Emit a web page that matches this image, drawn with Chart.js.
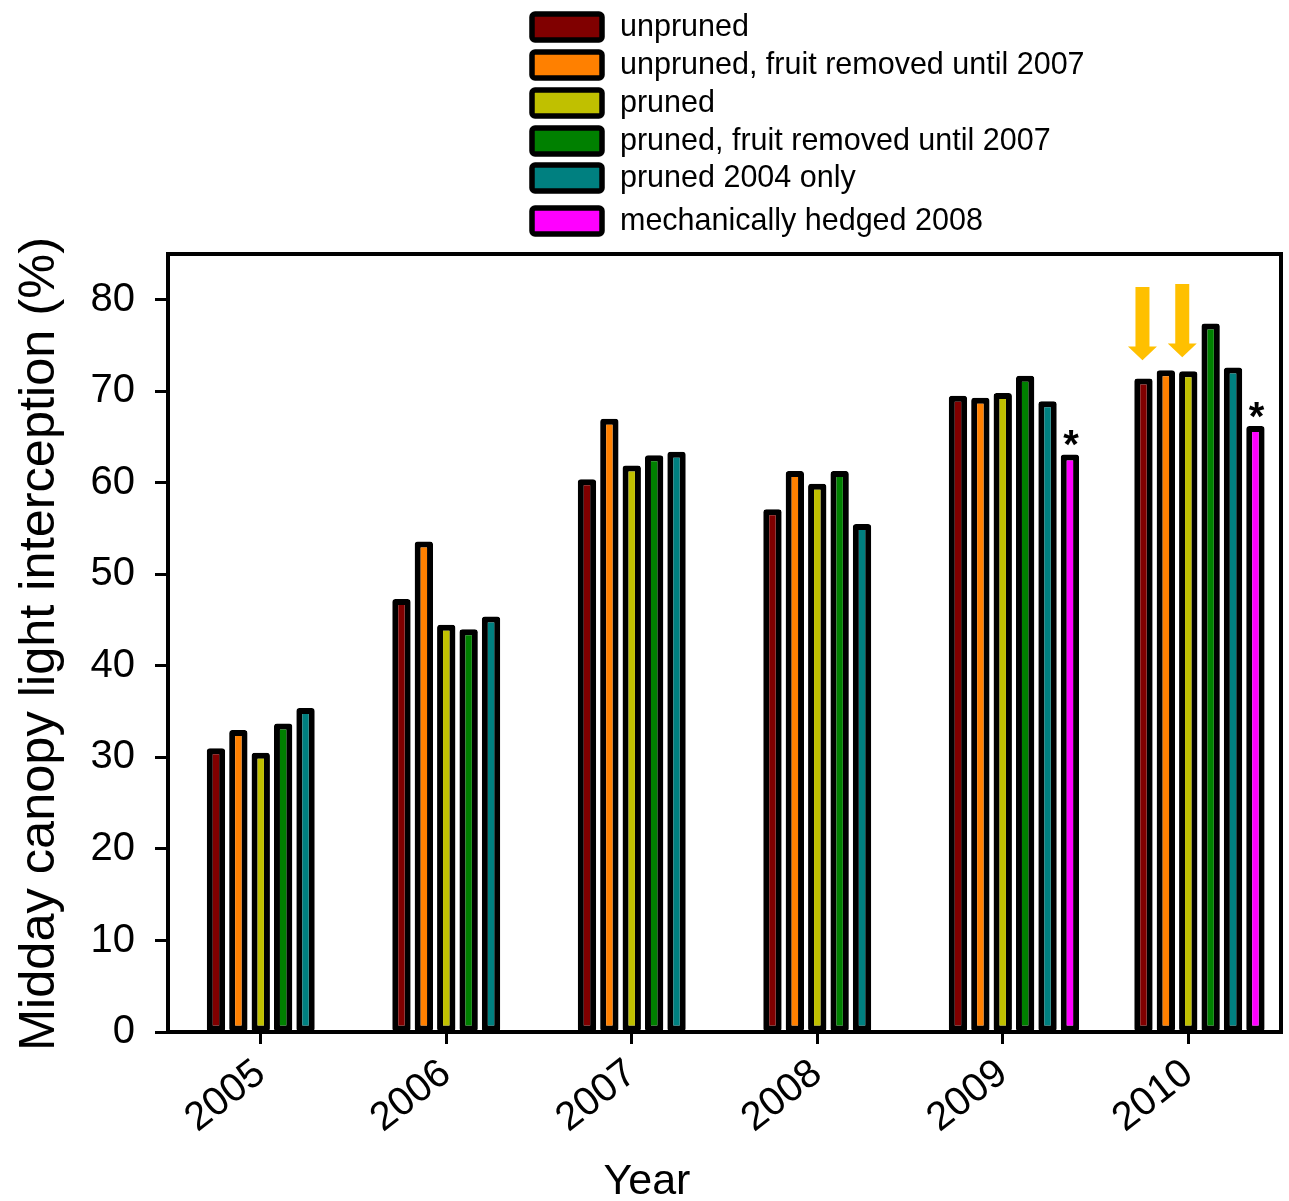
<!DOCTYPE html>
<html>
<head>
<meta charset="utf-8">
<title>Midday canopy light interception</title>
<script src="https://cdn.jsdelivr.net/npm/chart.js@4.4.1/dist/chart.umd.min.js"></script>
<style>
  html, body { margin: 0; padding: 0; background: #fff; }
</style>
</head>
<body>
<canvas id="lightChart" width="1289" height="1201"></canvas>
<script>
// Midday canopy light interception by treatment, 2005-2010

const years = ["2005", "2006", "2007", "2008", "2009", "2010"];

const treatmentNames = [
  "unpruned",
  "unpruned, fruit removed until 2007",
  "pruned",
  "pruned, fruit removed until 2007",
  "pruned 2004 only",
  "mechanically hedged 2008"
];
const treatmentColors = ["#800000", "#ff8000", "#c0c000", "#008000", "#008080", "#ff00ff"];

const unpruned        = [31.0, 47.3, 60.4, 57.1, 69.5, 71.4];
const unprunedNoFruit = [33.0, 53.6, 67.0, 61.3, 69.3, 72.3];
const pruned          = [30.5, 44.5, 61.9, 59.9, 69.8, 72.2];
const prunedNoFruit   = [33.7, 44.0, 63.0, 61.3, 71.7, 77.4];
const pruned2004      = [35.4, 45.4, 63.4, 55.5, 68.9, 72.6];
const hedged2008      = [null, null, null, null, 63.1, 66.2];

// significance marks over the hedged bars
const hedgedMarks = ["", "", "", "", "*", "*"];

const yTicks = [0, 10, 20, 30, 40, 50, 60, 70, 80];

const FONT = "'Liberation Sans', Arial, Helvetica, sans-serif";

const seriesValues = [unpruned, unprunedNoFruit, pruned, prunedNoFruit, pruned2004, hedged2008];

// empty leading slot keeps each year's tick under the "pruned" bar
const datasets = [{
  label: "",
  data: years.map(() => null),
  backgroundColor: "rgba(0,0,0,0)",
  borderWidth: 0
}].concat(seriesValues.map((vals, i) => ({
  label: treatmentNames[i],
  data: vals,
  backgroundColor: treatmentColors[i],
  borderColor: "#000",
  borderWidth: 6,
  borderRadius: 3,
  borderSkipped: false
})));

const framePlugin = {
  id: "frame",
  afterDatasetsDraw(chart) {
    const { ctx, chartArea: a } = chart;
    ctx.save();
    ctx.strokeStyle = "#000";
    ctx.lineWidth = 4;
    ctx.strokeRect(a.left, a.top, a.right - a.left, a.bottom - a.top);
    ctx.restore();
  }
};

const legendPlugin = {
  id: "boxLegend",
  afterDraw(chart) {
    const ctx = chart.ctx;
    const rowY = [27, 65, 103, 141, 178, 221];
    ctx.save();
    treatmentNames.forEach((name, i) => {
      const y = rowY[i];
      ctx.beginPath();
      ctx.roundRect(532, y - 13, 70, 26, 3);
      ctx.fillStyle = treatmentColors[i];
      ctx.fill();
      ctx.lineWidth = 5.5;
      ctx.strokeStyle = "#000";
      ctx.stroke();
      ctx.fillStyle = "#000";
      ctx.font = "30.5px " + FONT;
      ctx.textAlign = "left";
      ctx.textBaseline = "middle";
      ctx.fillText(name, 620, y + 1);
    });
    ctx.restore();
  }
};

const axisTitlePlugin = {
  id: "axisTitles",
  afterDraw(chart) {
    const { ctx, chartArea: a } = chart;
    ctx.save();
    ctx.fillStyle = "#000";
    ctx.textAlign = "center";
    ctx.textBaseline = "middle";
    ctx.font = "43px " + FONT;
    ctx.fillText("Year", 647, 1182);
    ctx.translate(40, (a.top + a.bottom) / 2 + 1);
    ctx.rotate(-Math.PI / 2);
    ctx.font = "50.5px " + FONT;
    ctx.fillText("Midday canopy light interception (%)", 0, 0);
    ctx.restore();
  }
};

// asterisks over hedged bars and the two arrows over 2010
const annotationPlugin = {
  id: "marks",
  afterDatasetsDraw(chart) {
    const ctx = chart.ctx;
    const yScale = chart.scales.y;
    ctx.save();
    const hedgedMeta = chart.getDatasetMeta(6);
    hedgedMarks.forEach((m, i) => {
      const el = hedgedMeta.data[i];
      if (!m || !el || hedged2008[i] == null) return;
      ctx.fillStyle = "#000";
      ctx.font = "bold 40px " + FONT;
      ctx.textAlign = "center";
      ctx.textBaseline = "alphabetic";
      ctx.fillText(m, el.x + 1, el.y + 4);
    });

    const arrows = [{ ds: 1, dx: -1 }, { ds: 3, dx: -6 }];
    const top = yScale.getPixelForValue(81.4);
    const headBase = yScale.getPixelForValue(74.9);
    const tip = yScale.getPixelForValue(73.4);
    arrows.forEach((ar, k) => {
      const el = chart.getDatasetMeta(ar.ds).data[5];
      const cx = el.x + ar.dx;
      const lift = k === 1 ? 3 : 0;
      ctx.beginPath();
      ctx.moveTo(cx - 7, top - lift);
      ctx.lineTo(cx + 7, top - lift);
      ctx.lineTo(cx + 7, headBase - lift);
      ctx.lineTo(cx + 14.5, headBase - lift);
      ctx.lineTo(cx, tip - lift);
      ctx.lineTo(cx - 14.5, headBase - lift);
      ctx.lineTo(cx - 7, headBase - lift);
      ctx.closePath();
      ctx.fillStyle = "#ffc000";
      ctx.fill();
    });
    ctx.restore();
  }
};

new Chart(document.getElementById("lightChart"), {
  type: "bar",
  data: { labels: years, datasets: datasets },
  options: {
    responsive: false,
    animation: false,
    categoryPercentage: 0.845,
    barPercentage: 0.82,
    layout: { padding: { top: 254, right: 8, left: 0, bottom: 0 } },
    plugins: {
      legend: { display: false },
      tooltip: { enabled: false },
      title: { display: false }
    },
    scales: {
      x: {
        grid: {
          display: true,
          drawOnChartArea: false,
          offset: false,
          tickLength: 12,
          tickWidth: 3,
          tickColor: "#000"
        },
        border: { display: false },
        ticks: {
          color: "#000",
          font: { family: FONT, size: 40 },
          minRotation: 38,
          maxRotation: 38,
          padding: 6
        },
        afterFit(scale) { scale.height = 169; }
      },
      y: {
        min: 0,
        max: 85,
        afterBuildTicks(scale) {
          scale.ticks = yTicks.map(v => ({ value: v }));
        },
        grid: {
          display: true,
          drawOnChartArea: false,
          tickLength: 13,
          tickWidth: 3,
          tickColor: "#000"
        },
        border: { display: false },
        ticks: {
          color: "#000",
          font: { family: FONT, size: 40 },
          padding: 20
        },
        afterFit(scale) { scale.width = 168; }
      }
    }
  },
  plugins: [framePlugin, legendPlugin, axisTitlePlugin, annotationPlugin]
});
</script>
</body>
</html>
